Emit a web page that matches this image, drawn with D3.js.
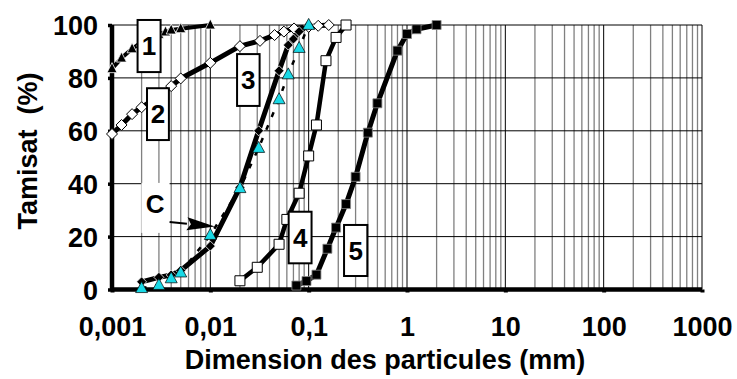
<!DOCTYPE html>
<html><head><meta charset="utf-8">
<script src="https://cdn.jsdelivr.net/npm/d3@7/dist/d3.min.js"></script>
<style>html,body{margin:0;padding:0;background:#fff;}svg{display:block;}</style>
</head><body>
<svg id="c" width="737" height="379"></svg>
<script>
// ---------- data ----------
const xTicks = [0.001, 0.01, 0.1, 1, 10, 100, 1000];
const xTickLabels = ["0,001", "0,01", "0,1", "1", "10", "100", "1000"];
const yTicks = [0, 20, 40, 60, 80, 100];
const yTickLabels = ["0", "20", "40", "60", "80", "100"];

const s1x = [0.001, 0.00125, 0.0016, 0.002, 0.003, 0.0035, 0.004, 0.005, 0.01];
const s1y = [83.5, 87.5, 91, 93.5, 96.5, 97.4, 98.1, 98.6, 100];

const s2x = [0.001, 0.00125, 0.0016, 0.002, 0.003, 0.004, 0.005, 0.01, 0.02, 0.032, 0.045, 0.056, 0.071, 0.1, 0.125, 0.16];
const s2y = [58.8, 62.2, 66.3, 68.9, 73, 76.9, 79.8, 85.7, 92, 94, 96.2, 97.5, 98.7, 99.3, 99.7, 100];

const s3x = [0.002, 0.003, 0.004, 0.005, 0.01, 0.02, 0.031, 0.05, 0.062, 0.07, 0.08, 0.1];
const s3y = [2.9, 4.6, 5.5, 7.2, 16.4, 38.6, 60, 82.7, 92.4, 94.7, 97.5, 100];

const s4x = [0.02, 0.03, 0.05, 0.06, 0.08, 0.1, 0.12, 0.15, 0.19, 0.24];
const s4y = [3.3, 8.4, 17.1, 26.5, 36.4, 50.5, 62.2, 86.5, 95.3, 100];

const s5x = [0.075, 0.095, 0.12, 0.155, 0.19, 0.24, 0.3, 0.4, 0.5, 0.8, 1.0, 1.25, 2.0];
const s5y = [1.5, 3.2, 5.6, 15.4, 23.4, 32.3, 42.6, 59.3, 70.4, 90.3, 96.6, 98.4, 100];

const sCx = [0.002, 0.003, 0.004, 0.005, 0.01, 0.02, 0.031, 0.05, 0.062, 0.08, 0.1];
const sCy = [0.5, 1.7, 4.2, 6.4, 20.6, 38.3, 53.5, 71.9, 81.3, 91.3, 100];

// label boxes (data units)
const boxLabels = ["1", "2", "3", "4", "5"];
const boxX0 = [0.00182, 0.00227, 0.0187, 0.0626, 0.229];
const boxX1 = [0.00312, 0.00379, 0.0317, 0.107, 0.395];
const boxYTop = [101.9, 76.1, 89.0, 29.4, 24.4];
const boxYBot = [82.2, 56.5, 69.4, 9.9, 5.1];

// "C" annotation
const cLabel = "C";
const cBg = [0.00199, 0.00385, 40.3, 21.4];
const cText = [0.00274, 32.3];
const cArrowFrom = [0.00385, 25.5];
const cArrowTo = [0.0111, 23.8];

// ---------- drawing ----------
const svg = d3.select("#c");
const x = d3.scaleLog().domain([0.001, 1000]).range([112, 702]);
const y = d3.scaleLinear().domain([0, 100]).range([289.5, 25]);
const FONT = "'Liberation Sans', Arial, Helvetica, sans-serif";
const FS = 27;

// grid: vertical
const minor = [];
for (let e = -3; e < 3; e++) for (let k = 2; k <= 9; k++) minor.push(k * Math.pow(10, e));
svg.append("g").selectAll("line").data(minor).join("line")
  .attr("x1", d => x(d)).attr("x2", d => x(d))
  .attr("y1", y(100)).attr("y2", y(0))
  .attr("stroke", "#808080").attr("stroke-width", 1.3);
svg.append("g").selectAll("line").data(xTicks).join("line")
  .attr("x1", d => x(d)).attr("x2", d => x(d))
  .attr("y1", y(100)).attr("y2", y(0))
  .attr("stroke", "#000").attr("stroke-width", 1);
// grid: horizontal
svg.append("g").selectAll("line").data(yTicks.filter(d => d > 0)).join("line")
  .attr("x1", x(0.001)).attr("x2", x(1000))
  .attr("y1", d => y(d)).attr("y2", d => y(d))
  .attr("stroke", "#000").attr("stroke-width", 1);

// C label background (covers grid)
svg.append("rect")
  .attr("x", x(cBg[0])).attr("y", y(cBg[2]))
  .attr("width", x(cBg[1]) - x(cBg[0])).attr("height", y(cBg[3]) - y(cBg[2]))
  .attr("fill", "#fff");

// axes
const xAxis = d3.axisBottom(x).tickValues(xTicks).tickFormat((d, i) => xTickLabels[i]).tickSize(3);
const gx = svg.append("g").attr("transform", `translate(0,${y(0)})`).call(xAxis);
gx.select(".domain").attr("stroke", "#000").attr("stroke-width", 4.5).attr("d", `M${x(0.001)},0H${x(1000)}`);
gx.selectAll(".tick line").attr("stroke", "#000").attr("stroke-width", 4).attr("y1", 0).attr("y2", 3);
gx.selectAll(".tick text").attr("font-family", FONT).attr("font-weight", "bold").attr("font-size", FS).attr("fill", "#000").attr("dy", "0.71em").attr("y", 27);

const yAxis = d3.axisLeft(y).tickValues(yTicks).tickFormat((d, i) => yTickLabels[i]).tickSize(3);
const gy = svg.append("g").attr("transform", `translate(${x(0.001)},0)`).call(yAxis);
gy.select(".domain").attr("stroke", "#000").attr("stroke-width", 4.5).attr("d", `M0,${y(100)}V${y(0)}`);
gy.selectAll(".tick line").attr("stroke", "#000").attr("stroke-width", 3.5).attr("x1", 0).attr("x2", -4);
gy.selectAll(".tick text").attr("font-family", FONT).attr("font-weight", "bold").attr("font-size", FS).attr("fill", "#000").attr("x", -14).attr("dy", "0.36em");

// series helpers
const line = d3.line().x(d => x(d[0])).y(d => y(d[1]));
const zip = (a, b) => a.map((v, i) => [v, b[i]]);
function tri(w, h) { return `M0,${-h * 0.6}L${w / 2},${h * 0.4}L${-w / 2},${h * 0.4}Z`; }
function drawSeries(pts, opt) {
  const g = svg.append("g");
  g.append("path").attr("d", line(pts)).attr("fill", "none")
    .attr("stroke", "#000").attr("stroke-width", opt.lw)
    .attr("stroke-dasharray", opt.dash || null).attr("stroke-linejoin", "round");
  const m = g.selectAll("path.m").data(pts).join("path").attr("class", "m")
    .attr("fill", opt.fill).attr("stroke", opt.stroke).attr("stroke-width", opt.sw)
    .attr("transform", d => `translate(${x(d[0])},${y(d[1])})`);
  if (opt.shape === "tri") m.attr("d", tri(opt.w, opt.h));
  if (opt.shape === "dia") m.attr("d", `M0,${-opt.w / 2}L${opt.w / 2},0L0,${opt.w / 2}L${-opt.w / 2},0Z`);
  if (opt.shape === "sq") m.attr("d", `M${-opt.w / 2},${-opt.w / 2}h${opt.w}v${opt.w}h${-opt.w}Z`);
}
drawSeries(zip(s1x, s1y), { lw: 4, shape: "tri", w: 10, h: 10, fill: "#000", stroke: "#fff", sw: 0.8 });
drawSeries(zip(s2x, s2y), { lw: 5, shape: "dia", w: 11, fill: "#fff", stroke: "#000", sw: 1 });
drawSeries(zip(s3x, s3y), { lw: 5, shape: "dia", w: 10, fill: "#000", stroke: "#fff", sw: 0.8 });
drawSeries(zip(s4x, s4y), { lw: 4.5, shape: "sq", w: 10, fill: "#fff", stroke: "#000", sw: 1 });
drawSeries(zip(s5x, s5y), { lw: 5, shape: "sq", w: 9, fill: "#000", stroke: "#888", sw: 0.8 });
drawSeries(zip(sCx, sCy), { lw: 2.5, dash: "5,9", shape: "tri", w: 12, h: 11, fill: "#19d9e6", stroke: "#000", sw: 0.7 });

// label boxes
const bx = svg.append("g");
boxLabels.forEach((t, i) => {
  const x0 = x(boxX0[i]), x1 = x(boxX1[i]), y0 = y(boxYTop[i]), y1 = y(boxYBot[i]);
  bx.append("rect").attr("x", x0).attr("y", y0).attr("width", x1 - x0).attr("height", y1 - y0)
    .attr("fill", "#fff").attr("stroke", "#000").attr("stroke-width", 2);
  bx.append("text").attr("x", (x0 + x1) / 2).attr("y", (y0 + y1) / 2).attr("dy", "0.36em")
    .attr("text-anchor", "middle").attr("font-family", FONT).attr("font-weight", "bold")
    .attr("font-size", 26).text(t);
});

// C label + arrow
svg.append("text").attr("x", x(cText[0])).attr("y", y(cText[1])).attr("dy", "0.36em")
  .attr("text-anchor", "middle").attr("font-family", FONT).attr("font-weight", "bold")
  .attr("font-size", 26).text(cLabel);
const ax0 = x(cArrowFrom[0]), ay0 = y(cArrowFrom[1]), ax1 = x(cArrowTo[0]), ay1 = y(cArrowTo[1]);
const ang = Math.atan2(ay1 - ay0, ax1 - ax0);
const hl = 28, hw = 6.5;
const bxp = ax1 - hl * Math.cos(ang), byp = ay1 - hl * Math.sin(ang);
svg.append("line").attr("x1", ax0).attr("y1", ay0).attr("x2", bxp).attr("y2", byp)
  .attr("stroke", "#000").attr("stroke-width", 2);
svg.append("path").attr("d",
  `M${ax1},${ay1}L${bxp - hw * Math.sin(ang)},${byp + hw * Math.cos(ang)}L${bxp + 4 * Math.cos(ang)},${byp + 4 * Math.sin(ang)}L${bxp + hw * Math.sin(ang)},${byp - hw * Math.cos(ang)}Z`)
  .attr("fill", "#000");

// titles
svg.append("text").attr("x", 385).attr("y", 369).attr("text-anchor", "middle")
  .attr("font-family", FONT).attr("font-weight", "bold").attr("font-size", FS)
  .text("Dimension des particules (mm)");
svg.append("text").attr("transform", "translate(37,151) rotate(-90)").attr("text-anchor", "middle")
  .attr("font-family", FONT).attr("font-weight", "bold").attr("font-size", FS)
  .attr("xml:space", "preserve").style("white-space", "pre")
  .text("Tamisat  (%)");
</script>
</body></html>
